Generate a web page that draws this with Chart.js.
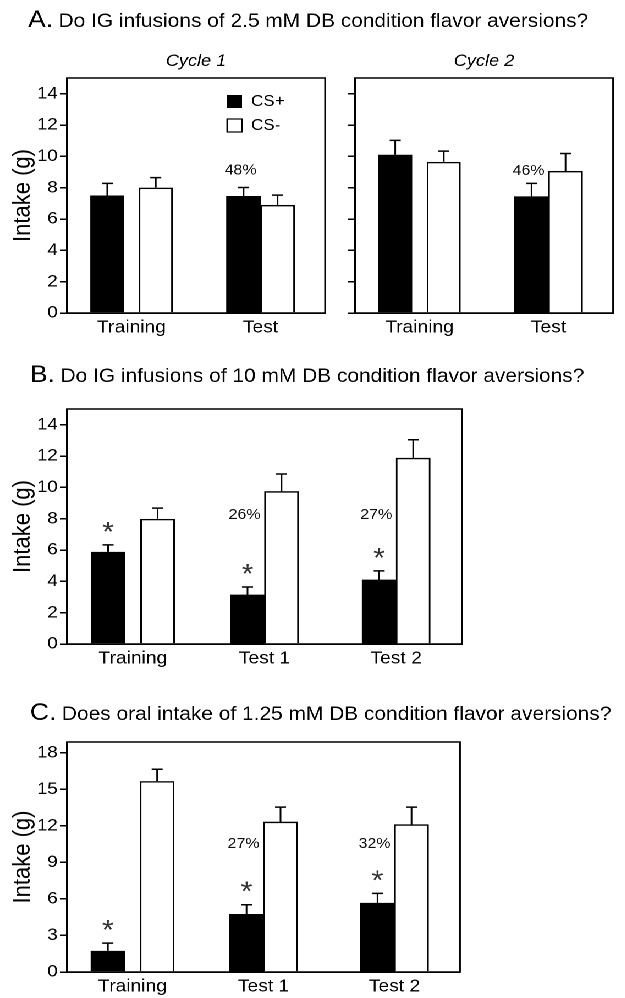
<!DOCTYPE html>
<html>
<head>
<meta charset="utf-8">
<script src="https://cdn.jsdelivr.net/npm/chart.js@4.4.1/dist/chart.umd.min.js"></script>
<style>
  body { margin: 0; background: #fff; overflow: hidden; }
  #wrap { position: absolute; left: 0; top: 0; width: 568px; height: 998px; transform: scaleX(1.1); transform-origin: 0 0; }
  canvas { position: absolute; }
</style>
</head>
<body>
<div id="wrap">
  <canvas id="chartA1" width="568" height="343" style="left:0;top:0"></canvas>
  <canvas id="chartA2" width="252" height="343" style="left:312px;top:0"></canvas>
  <canvas id="chartB" width="568" height="324" style="left:0;top:350px"></canvas>
  <canvas id="chartC" width="568" height="312" style="left:0;top:690px"></canvas>
</div>
<script>
const titleA = 'Do IG infusions of 2.5 mM DB condition flavor aversions?';
const titleB = 'Do IG infusions of 10 mM DB condition flavor aversions?';
const titleC = 'Does oral intake of 1.25 mM DB condition flavor aversions?';
const seriesNames = ['CS+', 'CS-'];
const groupsA = ['Training', 'Test'];
const groupsBC = ['Training', 'Test 1', 'Test 2'];
const ticksAB = [0, 2, 4, 6, 8, 10, 12, 14];
const ticksC = [0, 3, 6, 9, 12, 15, 18];

// A, cycle 1
const a1Plus = [7.5, 7.45];
const a1PlusSem = [0.77, 0.56];
const a1Minus = [8.0, 6.88];
const a1MinusSem = [0.64, 0.64];
const a1Pct = ['', '48%'];
// A, cycle 2
const a2Plus = [10.1, 7.42];
const a2PlusSem = [0.92, 0.85];
const a2Minus = [9.65, 9.05];
const a2MinusSem = [0.68, 1.13];
const a2Pct = ['', '46%'];
// B
const bPlus = [5.88, 3.13, 4.09];
const bPlusSem = [0.45, 0.51, 0.58];
const bMinus = [7.99, 9.74, 11.87];
const bMinusSem = [0.68, 1.11, 1.17];
const bPct = ['', '26%', '27%'];
const bStar = [true, true, true];
// C
const cPlus = [1.74, 4.74, 5.65];
const cPlusSem = [0.63, 0.79, 0.81];
const cMinus = [15.68, 12.33, 12.11];
const cMinusSem = [0.98, 1.22, 1.44];
const cPct = ['', '27%', '32%'];
const cStar = [true, true, true];

const FONT = "'Liberation Sans', Arial, sans-serif";
Chart.defaults.font.family = FONT;
Chart.defaults.color = '#000';

// training bars sit apart, test bars touch -> split each series in two datasets
function split(arr, training) {
  return arr.map((v, i) => ((i === 0) === training ? v : null));
}

function makeDatasets(plus, plusSem, minus, minusSem, pct, star) {
  const sets = [];
  [true, false].forEach(training => {
    const spacing = training ? { categoryPercentage: 0.752, barPercentage: 0.70 } : { barThickness: 30.9 };
    sets.push({ label: seriesNames[0], data: split(plus, training), sem: plusSem, pct: pct, star: star,
      backgroundColor: '#000', borderWidth: 0, ...spacing });
    sets.push({ label: seriesNames[1], data: split(minus, training), sem: minusSem,
      backgroundColor: '#fff', borderColor: '#000', borderWidth: 1.5, ...spacing });
  });
  return sets;
}

function drawStar(ctx, x, cy) {
  ctx.font = '100px ' + FONT;
  let m = ctx.measureText('*');
  const size = 100 * 10 / (m.actualBoundingBoxAscent + m.actualBoundingBoxDescent);
  ctx.font = size.toFixed(1) + 'px ' + FONT;
  ctx.textAlign = 'center';
  ctx.textBaseline = 'alphabetic';
  m = ctx.measureText('*');
  ctx.fillText('*', x, cy + (m.actualBoundingBoxAscent - m.actualBoundingBoxDescent) / 2);
}

const deco = {
  id: 'deco',
  afterDraw(chart, args, o) {
    const { ctx, chartArea: a, scales: { y } } = chart;
    ctx.save();
    ctx.fillStyle = '#000';
    ctx.strokeStyle = '#000';
    ctx.lineWidth = 1.5;
    ctx.strokeRect(a.left, a.top, a.right - a.left, a.bottom - a.top);

    // error bars, stars, percentages
    chart.data.datasets.forEach((ds, di) => {
      chart.getDatasetMeta(di).data.forEach((bar, i) => {
        const v = ds.data[i];
        if (v === null || v === undefined) return;
        const top = y.getPixelForValue(v + ds.sem[i]);
        ctx.beginPath();
        ctx.moveTo(bar.x, bar.y);
        ctx.lineTo(bar.x, top);
        ctx.moveTo(bar.x - 5, top);
        ctx.lineTo(bar.x + 5, top);
        ctx.stroke();
        ctx.fillStyle = '#333';
        if (ds.star && ds.star[i]) drawStar(ctx, bar.x, top - 18);
        ctx.fillStyle = '#111';
        if (ds.pct && ds.pct[i]) {
          ctx.font = '14.5px ' + FONT;
          ctx.textAlign = 'center';
          ctx.textBaseline = 'middle';
          ctx.fillText(ds.pct[i], bar.x - 2.7, y.getPixelForValue(o.pctLevel));
        }
        ctx.fillStyle = '#000';
      });
    });

    // panel title
    if (o.letter) {
      ctx.textAlign = 'left';
      ctx.textBaseline = 'alphabetic';
      ctx.font = '24px ' + FONT;
      ctx.fillText(o.letter, o.titleX, o.titleY);
      const w = ctx.measureText(o.letter).width;
      ctx.font = '19px ' + FONT;
      ctx.fillText(o.title, o.titleX + w + 5, o.titleY);
    }
    if (o.sub) {
      ctx.textAlign = 'center';
      ctx.textBaseline = 'alphabetic';
      ctx.font = 'italic 16.5px ' + FONT;
      ctx.fillText(o.sub, (a.left + a.right) / 2, a.top - 12);
    }
    if (o.legend) {
      ctx.font = '15.5px ' + FONT;
      ctx.textAlign = 'left';
      ctx.textBaseline = 'middle';
      ctx.lineWidth = 1.2;
      seriesNames.forEach((name, k) => {
        const lx = a.left + 145.5, ly = a.top + 17 + k * 24;
        if (k === 0) {
          ctx.fillRect(lx, ly, 13.6, 13);
        } else {
          ctx.fillStyle = '#fff';
          ctx.fillRect(lx, ly, 13.6, 13);
          ctx.strokeRect(lx, ly, 13.6, 13);
          ctx.fillStyle = '#000';
        }
        ctx.fillText(name, a.left + 167.3, ly + 6.5);
      });
    }
    ctx.restore();
  }
};

function makeChart(id, labels, datasets, o) {
  return new Chart(document.getElementById(id), {
    type: 'bar',
    data: { labels: labels, datasets: datasets },
    options: {
      responsive: false,
      animation: false,
      devicePixelRatio: 2,
      layout: { padding: { top: o.top, right: o.right, left: 0, bottom: 0 } },
      datasets: { bar: { skipNull: true } },
      plugins: { legend: { display: false }, tooltip: { enabled: false }, deco: o },
      scales: {
        x: {
          grid: { display: false, drawTicks: false },
          border: { color: '#000', width: 1.5 },
          ticks: { color: '#000', font: { size: 17.5 }, padding: 4 },
          afterFit: s => { s.height = 30; }
        },
        y: {
          min: 0,
          max: o.max,
          afterBuildTicks: s => { s.ticks = o.ticks.map(v => ({ value: v })); },
          afterFit: s => { s.width = o.yWidth; },
          grid: { drawOnChartArea: false, color: '#000', lineWidth: 1.5, tickLength: 6.4 },
          border: { color: '#000', width: 1.5 },
          ticks: { display: o.yLabels, color: '#000', font: { size: 17 }, padding: 2 },
          title: { display: o.yLabels, text: 'Intake (g)', color: '#000', font: { size: 22 }, padding: { top: 7.5 } }
        }
      }
    },
    plugins: [deco]
  });
}

makeChart('chartA1', groupsA, makeDatasets(a1Plus, a1PlusSem, a1Minus, a1MinusSem, a1Pct, null), {
  top: 78, right: 272.5, yWidth: 60.9, yLabels: true, max: 15, ticks: ticksAB, pctLevel: 9.1,
  letter: 'A.', title: titleA, titleX: 25.5, titleY: 27, sub: 'Cycle 1', legend: true
});
makeChart('chartA2', groupsA, makeDatasets(a2Plus, a2PlusSem, a2Minus, a2MinusSem, a2Pct, null), {
  top: 78, right: 6.7, yWidth: 10.7, yLabels: false, max: 15, ticks: ticksAB, pctLevel: 9.05,
  sub: 'Cycle 2'
});
makeChart('chartB', groupsBC, makeDatasets(bPlus, bPlusSem, bMinus, bMinusSem, bPct, bStar), {
  top: 59, right: 148, yWidth: 60.9, yLabels: true, max: 15, ticks: ticksAB, pctLevel: 8.25,
  letter: 'B.', title: titleB, titleX: 27.3, titleY: 32
});
makeChart('chartC', groupsBC, makeDatasets(cPlus, cPlusSem, cMinus, cMinusSem, cPct, cStar), {
  top: 52, right: 149.8, yWidth: 60.9, yLabels: true, max: 18.9, ticks: ticksC, pctLevel: 10.5,
  letter: 'C.', title: titleC, titleX: 27.3, titleY: 30
});
</script>
</body>
</html>
